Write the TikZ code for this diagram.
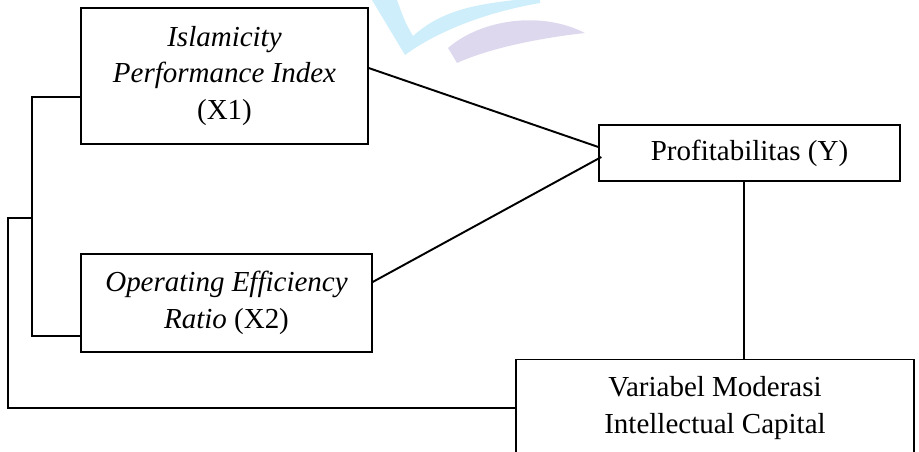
\documentclass[tikz,border=0pt]{standalone}
\usepackage{fontspec}
\setmainfont{Liberation Serif}
\usetikzlibrary{positioning}
\definecolor{wmcyan}{RGB}{205,238,250}
\definecolor{wmlilac}{RGB}{222,216,238}

\begin{document}
\begin{tikzpicture}[
  every node/.style={font=\fontsize{16.5}{21}\selectfont},
  varbox/.style={draw=black, line width=0.75pt, fill=white, align=center, inner sep=0pt},
  link/.style={draw=black, line width=1.1pt}
]
\useasboundingbox (0,0) rectangle (18.38,9.02);
\clip (0,0) rectangle (18.38,9.02);

% watermark behind the boxes
\fill[wmcyan] (7.44,9.02) -- (8.10,7.92)
  .. controls (8.50,8.22) and (9.40,8.72) .. (10.80,8.96) -- (10.80,9.02) -- (10.30,9.02)
  .. controls (9.40,8.92) and (8.80,8.78) .. (8.26,8.30)
  .. controls (8.10,8.58) .. (7.94,9.02) -- cycle;
\fill[wmlilac] (8.96,8.06) .. controls (9.60,8.62) and (10.80,8.82) .. (11.70,8.36)
  .. controls (10.80,8.26) and (9.80,8.06) .. (9.14,7.76) -- cycle;

\node[varbox, minimum width=5.74cm, minimum height=2.72cm] (ipi) at (4.49,7.50) {\textit{Islamicity}\\\textit{Performance Index}\\(X1)};
\node[varbox, minimum width=5.82cm, minimum height=1.96cm] (oer) at (4.53,2.96) {\textit{Operating Efficiency}\\\textit{Ratio} (X2)};
\node[varbox, minimum width=6.02cm, minimum height=1.12cm] (prof) at (14.99,5.96) {Profitabilitas (Y)};
\node[varbox, minimum width=7.96cm, minimum height=1.94cm] (ic) at (14.30,0.86) {Variabel Moderasi\\Intellectual Capital};

\coordinate (jn) at (0.64,4.66);
\coordinate (outer) at (0.16,4.66);

\draw[link] ([yshift=1.6mm]ipi.east) -- ([yshift=1.2mm]prof.west);
\draw[link] ([yshift=4.2mm]oer.east) -- ([xshift=0.6mm,yshift=-0.8mm]prof.west);
\draw[link] ([xshift=-1.1mm]prof.south) -- ([xshift=-1.1mm]prof.south |- ic.north);
\draw[link] ([yshift=-4.2mm]ipi.west) -| (jn) |- ([yshift=-6.6mm]oer.west);
\draw[link] (jn) -- (outer) |- (ic.west);
\end{tikzpicture}
\end{document}
